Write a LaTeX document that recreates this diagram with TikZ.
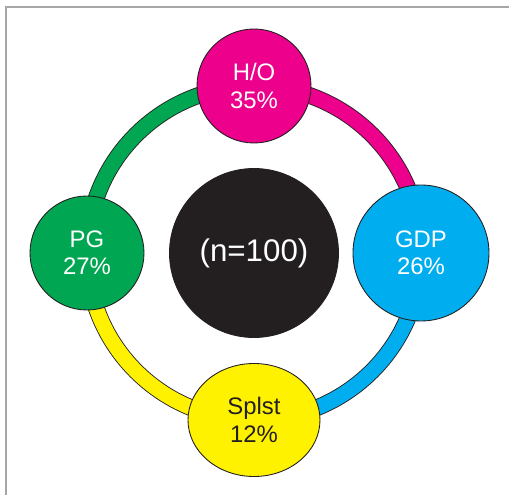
\documentclass[tikz,border=0pt]{standalone}
\usepackage{fontspec}
\setmainfont{Liberation Sans}
\usepackage{tikz}
\usetikzlibrary{shapes.geometric}
\usetikzlibrary{backgrounds}
\definecolor{hoMag}{HTML}{EC008C}
\definecolor{pgGreen}{HTML}{00A651}
\definecolor{gdpCyan}{HTML}{00AEEF}
\definecolor{spYellow}{HTML}{FFF200}
\definecolor{inkBlack}{HTML}{231F20}

\begin{document}
\begin{tikzpicture}[
  blob/.style={circle, draw=inkBlack, line width=0.5pt, inner sep=0pt, align=center,
    text=white, font=\fontsize{13.6}{15.6}\selectfont},
  band/.style={draw=inkBlack, line width=0.5pt, double distance=0.3cm}]

\useasboundingbox (-5.08,-4.84) rectangle (5.10,5.06);

% frame
\draw [color=gray!70, line width=1.3pt] (-4.96,-4.84) -- (-4.96,4.92) -- (5.10,4.92);

\node [blob, fill=inkBlack, minimum size=3.38cm, font=\fontsize{17.8}{20}\selectfont] (n) at (0,0) {(n=100)};

\node [blob, fill=hoMag, minimum size=2.28cm] (ho) at (90:3.34) {H/O\\35\%};
\node [blob, fill=pgGreen, minimum size=2.28cm] (pg) at (180:3.34) {PG\\27\%};
\node [blob, fill=gdpCyan, minimum size=2.72cm] (gdp) at (0:3.34) {GDP\\26\%};
\node [blob, ellipse, fill=spYellow, text=inkBlack, minimum width=2.64cm, minimum height=2.26cm] (sp) at (270:3.34) {Splst\\12\%};

\begin{scope}[on background layer]
\draw [band, double=hoMag] (ho.center) arc [start angle=90, end angle=0, radius=3.34];
\draw [band, double=gdpCyan] (gdp.center) arc [start angle=0, end angle=-90, radius=3.34];
\draw [band, double=spYellow] (sp.center) arc [start angle=270, end angle=180, radius=3.34];
\draw [band, double=pgGreen] (pg.center) arc [start angle=180, end angle=90, radius=3.34];
\end{scope}

\end{tikzpicture}
\end{document}
